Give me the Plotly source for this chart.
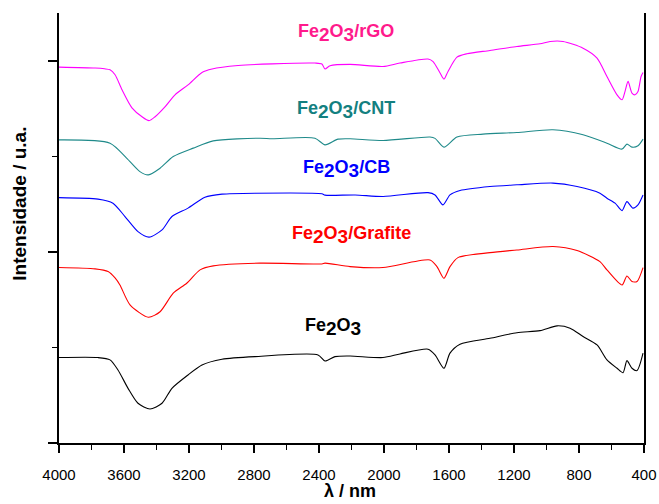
import plotly.graph_objects as go

# ---- data (wavenumber cm-1, intensity a.u.) ----
rgo_x = [4000, 3778, 3720, 3686, 3655, 3612, 3551, 3489, 3446, 3409, 3348, 3286, 3206, 3120, 3058, 2898, 2689,
         2425, 2382, 2363, 2332, 2209, 2006, 1902, 1729, 1698, 1655, 1631, 1606, 1551, 1489, 1348, 1182, 1040,
         978, 898, 775, 689, 628, 566, 535, 517, 498, 474, 455, 437, 418, 406]
rgo_y = [1.967, 1.962, 1.958, 1.953, 1.927, 1.848, 1.754, 1.707, 1.687, 1.707, 1.759, 1.822, 1.874, 1.939, 1.957,
         1.975, 1.984, 1.988, 1.983, 1.957, 1.974, 1.981, 1.970, 1.988, 2.009, 1.996, 1.936, 1.904, 1.944, 2.019,
         2.037, 2.054, 2.075, 2.089, 2.101, 2.101, 2.066, 2.014, 1.918, 1.822, 1.796, 1.839, 1.892, 1.831, 1.822,
         1.839, 1.918, 1.939]

cnt_x = [4000, 3686, 3584, 3502, 3450, 3378, 3297, 3174, 3051, 2763, 2689, 2425, 2363, 2283, 2209, 2006, 1717,
         1686, 1631, 1551, 1391, 1182, 960, 775, 628, 535, 505, 474, 437, 406]
cnt_y = [1.586, 1.569, 1.491, 1.420, 1.403, 1.438, 1.499, 1.543, 1.581, 1.595, 1.592, 1.595, 1.560, 1.590, 1.592,
         1.583, 1.601, 1.594, 1.548, 1.601, 1.616, 1.625, 1.639, 1.613, 1.569, 1.538, 1.564, 1.548, 1.555, 1.590]

cb_x = [4000, 3760, 3668, 3594, 3514, 3446, 3366, 3305, 3206, 3102, 2997, 2794, 2382, 2363, 2178, 2006, 1729,
        1686, 1637, 1594, 1532, 1348, 1182, 960, 812, 671, 628, 578, 535, 505, 468, 437, 406]
cb_y = [1.284, 1.276, 1.255, 1.185, 1.106, 1.077, 1.115, 1.185, 1.229, 1.286, 1.302, 1.307, 1.304, 1.297, 1.298,
        1.290, 1.310, 1.298, 1.246, 1.298, 1.321, 1.342, 1.351, 1.360, 1.342, 1.307, 1.281, 1.255, 1.216, 1.263,
        1.229, 1.246, 1.298]

graf_x = [4000, 3778, 3698, 3655, 3625, 3563, 3450, 3378, 3297, 3214, 3132, 3051, 2763, 2382, 2363, 2209, 2006,
          1717, 1674, 1631, 1594, 1545, 1348, 1182, 960, 812, 671, 628, 535, 505, 474, 443, 406]
graf_y = [0.918, 0.911, 0.897, 0.864, 0.827, 0.723, 0.658, 0.687, 0.784, 0.836, 0.906, 0.927, 0.941, 0.937, 0.941,
          0.923, 0.918, 0.958, 0.923, 0.862, 0.923, 0.970, 0.996, 1.010, 1.028, 1.007, 0.949, 0.906, 0.827, 0.874,
          0.845, 0.845, 0.918]

fe_x = [4000, 3760, 3686, 3637, 3575, 3514, 3440, 3366, 3305, 3206, 3120, 2997, 2794, 2406, 2363, 2302, 2209,
        2006, 1902, 1729, 1686, 1631, 1594, 1532, 1348, 1182, 1040, 935, 855, 775, 689, 628, 566, 529, 505, 474,
        443, 406]
fe_y = [0.447, 0.447, 0.435, 0.382, 0.286, 0.208, 0.178, 0.208, 0.286, 0.356, 0.408, 0.438, 0.452, 0.461, 0.429,
        0.452, 0.455, 0.447, 0.466, 0.491, 0.461, 0.391, 0.470, 0.517, 0.548, 0.577, 0.588, 0.613, 0.601, 0.557,
        0.513, 0.435, 0.391, 0.368, 0.431, 0.391, 0.379, 0.470]

series = [
    ("Fe2O3/rGO", rgo_x, rgo_y, "#FF00FF"),
    ("Fe2O3/CNT", cnt_x, cnt_y, "#1F8A8A"),
    ("Fe2O3/CB", cb_x, cb_y, "#0000FF"),
    ("Fe2O3/Grafite", graf_x, graf_y, "#FF0000"),
    ("Fe2O3", fe_x, fe_y, "#000000"),
]

label_text = ["/rGO", "/CNT", "/CB", "/Grafite", ""]
label_x = [2234, 2234, 2228, 2203, 2314]
label_y = [2.147, 1.743, 1.435, 1.089, 0.607]
label_color = ["#FF1A8C", "#138080", "#0000FF", "#FF0000", "#000000"]

x_ticks = [4000, 3600, 3200, 2800, 2400, 2000, 1600, 1200, 800, 400]

fig = go.Figure()
for name, xs, ys, col in series:
    fig.add_trace(go.Scatter(x=xs, y=ys, mode="lines", name=name,
                             line=dict(color=col, width=1.1, shape="spline", smoothing=0.7),
                             showlegend=False))

sub = '<sub><span style="font-size:19px">{}</span></sub>'
for t, xv, yv, c in zip(label_text, label_x, label_y, label_color):
    txt = "<b>Fe" + sub.format("2") + "O" + sub.format("3") + t + "</b>"
    fig.add_annotation(x=xv, y=yv, text=txt, showarrow=False,
                       font=dict(family="Liberation Sans, Arial", size=18, color=c),
                       xanchor="center", yanchor="middle")

# axis titles
fig.add_annotation(xref="paper", yref="paper", x=0.497, y=-0.112, text="<b>λ / nm</b>",
                   showarrow=False, font=dict(size=18, family="Liberation Sans, Arial", color="black"),
                   xanchor="center", yanchor="middle")
fig.add_annotation(xref="paper", yref="paper", x=-0.067, y=0.556, text="<b>Intensidade / u.a.</b>",
                   showarrow=False, textangle=-90,
                   font=dict(size=19, family="Liberation Sans, Arial", color="black"),
                   xanchor="center", yanchor="middle")

fig.update_layout(
    width=659, height=504,
    margin=dict(l=59, r=15, t=13, b=61),
    paper_bgcolor="white", plot_bgcolor="white",
    font=dict(family="Liberation Sans, Arial", color="black"),
)
fig.update_xaxes(
    range=[4000, 400], tickvals=x_ticks, ticktext=[str(v) for v in x_ticks],
    showline=True, linecolor="black", linewidth=1.6, mirror=False,
    ticks="outside", ticklen=8, tickwidth=1.5, tickcolor="black",
    minor=dict(dtick=200, ticks="outside", ticklen=5, tickwidth=1.2, tickcolor="black"),
    showgrid=False, zeroline=False, automargin=False,
    tickfont=dict(size=15, family="Liberation Sans, Arial"),
    ticklabelstandoff=9,
)
fig.update_yaxes(
    range=[0, 2.25], tickvals=[0, 1, 2], showticklabels=False,
    showline=True, linecolor="black", linewidth=1.6, mirror=True,
    ticks="outside", ticklen=9, tickwidth=1.5, tickcolor="black",
    minor=dict(tickvals=[0.5, 1.5], ticks="outside", ticklen=5, tickwidth=1.2, tickcolor="black"),
    showgrid=False, zeroline=False, automargin=False,
)

fig.write_html("out.html", config={"displayModeBar": False},
               post_script="document.body.style.margin='0px';document.body.style.overflow='hidden';")
